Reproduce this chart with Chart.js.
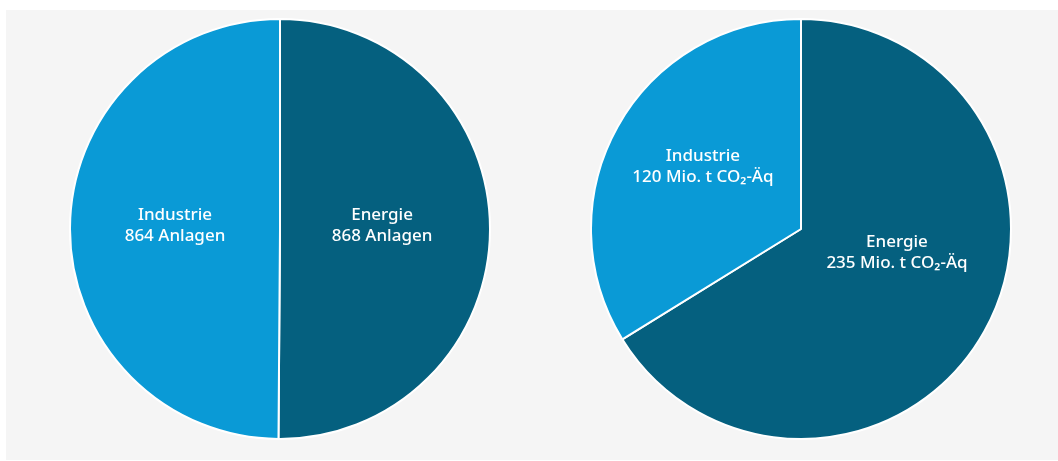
<!DOCTYPE html>
<html lang="de">
<head>
<meta charset="UTF-8">
<title>Anlagen und Emissionen nach Sektor</title>
<script src="https://cdn.jsdelivr.net/npm/chart.js@4.4.0/dist/chart.umd.min.js"></script>
<style>
    * { margin: 0; padding: 0; box-sizing: border-box; }
    body { background: #fff; width: 1058px; height: 461px; overflow: hidden; font-family: "Noto Sans", sans-serif; }
    .panel { position: absolute; left: 6px; top: 10px; width: 1052px; height: 450px; background: #f5f5f5; }
    .pie { position: absolute; width: 422px; height: 422px; }
    #anlagen { left: 69px; top: 18px; }
    #emissionen { left: 590px; top: 18px; }
</style>
</head>
<body>
<div class="panel"></div>
<div class="pie" id="anlagen"><canvas id="anlagenChart"></canvas></div>
<div class="pie" id="emissionen"><canvas id="emissionenChart"></canvas></div>

<script>
// sectors, in drawing order (clockwise from 12 o'clock)
const sectors = ['Energie', 'Industrie'];
const colors = ['#05607f', '#0a9ad6'];

// number of installations per sector
const installations = [868, 864];
const installationLabels = ['868 Anlagen', '864 Anlagen'];

// emissions per sector, Mio. t CO2-Äq
const emissions = [235, 120];
const emissionLabels = ['235 Mio. t CO₂-Äq', '120 Mio. t CO₂-Äq'];

// writes "Sektor / Wert" into each slice, anchored relative to the pie centre
const sliceLabels = {
    id: 'sliceLabels',
    afterDatasetsDraw(chart, args, opts) {
        const ctx = chart.ctx;
        const meta = chart.getDatasetMeta(0);
        ctx.save();
        ctx.fillStyle = '#ffffff';
        ctx.textAlign = 'center';
        ctx.textBaseline = 'middle';
        ctx.font = '500 17px "Noto Sans", sans-serif';
        meta.data.forEach((arc, i) => {
            const r = arc.outerRadius;
            const x = arc.x + opts.anchors[i][0] * r;
            const y = arc.y + opts.anchors[i][1] * r;
            ctx.fillText(chart.data.labels[i], x, y - 10.5);
            ctx.fillText(opts.values[i], x, y + 10.5);
        });
        ctx.restore();
    }
};

function makePie(id, values, valueLabels, anchors) {
    return new Chart(document.getElementById(id), {
        type: 'pie',
        data: {
            labels: sectors,
            datasets: [{
                data: values,
                backgroundColor: colors,
                borderColor: '#ffffff',
                borderWidth: 2
            }]
        },
        options: {
            responsive: true,
            maintainAspectRatio: false,
            animation: false,
            layout: { padding: 0 },
            plugins: {
                legend: { display: false },
                tooltip: { enabled: false },
                sliceLabels: { values: valueLabels, anchors: anchors }
            }
        },
        plugins: [sliceLabels]
    });
}

makePie('anlagenChart', installations, installationLabels, [[0.486, -0.015], [-0.5, -0.015]]);
makePie('emissionenChart', emissions, emissionLabels, [[0.457, 0.114], [-0.467, -0.295]]);
</script>
</body>
</html>
